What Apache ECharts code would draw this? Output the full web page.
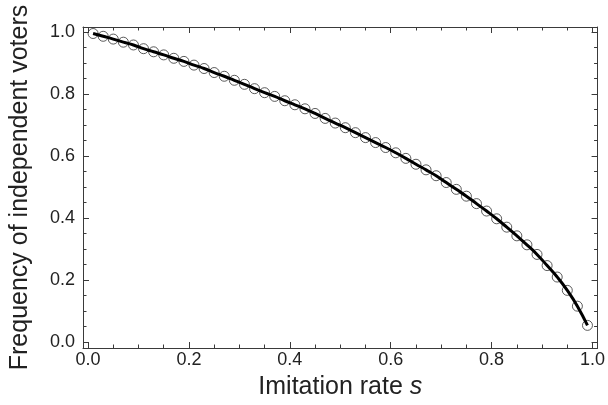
<!DOCTYPE html>
<html>
<head>
<meta charset="utf-8">
<script src="https://cdn.jsdelivr.net/npm/echarts@6/dist/echarts.min.js"></script>
<style>
html,body{margin:0;padding:0;background:#fff;}
#c{width:608px;height:405px;}
</style>
</head>
<body>
<div id="c"></div>
<script>
// Imitation rate s (x values of the open circles)
var sValues = [0.01,0.03,0.05,0.07,0.09,0.11,0.13,0.15,0.17,0.19,
               0.21,0.23,0.25,0.27,0.29,0.31,0.33,0.35,0.37,0.39,
               0.41,0.43,0.45,0.47,0.49,0.51,0.53,0.55,0.57,0.59,
               0.61,0.63,0.65,0.67,0.69,0.71,0.73,0.75,0.77,0.79,
               0.81,0.83,0.85,0.87,0.89,0.91,0.93,0.95,0.97,0.99];
// Frequency of independent voters
var freqValues = [0.995,0.986,0.977,0.967,0.958,0.946,0.936,0.926,0.915,0.905,
                  0.893,0.882,0.869,0.857,0.844,0.831,0.817,0.804,0.792,0.778,
                  0.765,0.752,0.737,0.721,0.706,0.691,0.675,0.659,0.643,0.627,
                  0.610,0.592,0.573,0.555,0.536,0.514,0.492,0.470,0.446,0.422,
                  0.397,0.370,0.342,0.313,0.282,0.246,0.209,0.166,0.115,0.053];
var majorTicks = [0,0.2,0.4,0.6,0.8,1.0];
var minorTicks = [0.05,0.1,0.15,0.25,0.3,0.35,0.45,0.5,0.55,0.65,0.7,0.75,0.85,0.9,0.95];

var pts = sValues.map(function(s,i){return [s,freqValues[i]];});
var FONT = "'Liberation Sans', Arial, Helvetica, sans-serif";
var AX = '#3a3a3a';

function mkX(pos, major, showLine, extra){
  var a = {
    type:'value', position:pos, min:-0.01, max:1.01, gridIndex:0,
    axisLine:{show:showLine, onZero:false, lineStyle:{color:AX,width:1}},
    axisTick:{show:true, inside:true, length:major?6:3.5, customValues: major?majorTicks:minorTicks, lineStyle:{color:AX,width:1}},
    axisLabel:{show:false},
    splitLine:{show:false}
  };
  for (var k in extra) a[k]=extra[k];
  return a;
}
function mkY(pos, major, showLine, extra){
  var a = {
    type:'value', position:pos, min:-0.02, max:1.016, gridIndex:0,
    axisLine:{show:showLine, onZero:false, lineStyle:{color:AX,width:1}},
    axisTick:{show:true, inside:true, length:major?6:3.5, customValues: major?majorTicks:minorTicks, lineStyle:{color:AX,width:1}},
    axisLabel:{show:false},
    splitLine:{show:false}
  };
  for (var k in extra) a[k]=extra[k];
  return a;
}

var option = {
  animation:false,
  backgroundColor:'#fff',
  grid:{left:80, top:27, width:520, height:321, containLabel:false},
  xAxis:[
    mkX('bottom', true, true, {
      axisLabel:{show:true, customValues:majorTicks, margin:3, color:'#222', fontSize:18, fontFamily:FONT,
        formatter:function(v){return v.toFixed(1);}},
      name:'Imitation rate {i|s}', nameLocation:'middle', nameGap:27,
      nameTextStyle:{color:'#222', fontSize:25, fontFamily:FONT,
        rich:{i:{fontStyle:'italic', fontSize:25, fontFamily:FONT, color:'#222'}}}
    }),
    mkX('bottom', false, false, {}),
    mkX('top', true, true, {}),
    mkX('top', false, false, {})
  ],
  yAxis:[
    mkY('left', true, true, {
      axisLabel:{show:true, customValues:majorTicks, margin:8, color:'#222', fontSize:18, fontFamily:FONT,
        formatter:function(v){return v.toFixed(1);}},
      name:'Frequency of independent voters', nameLocation:'middle', nameGap:50,
      nameTextStyle:{color:'#222', fontSize:25, fontFamily:FONT}
    }),
    mkY('left', false, false, {}),
    mkY('right', true, true, {}),
    mkY('right', false, false, {})
  ],
  series:[
    {
      type:'line', xAxisIndex:0, yAxisIndex:0, data:pts, smooth:true,
      showSymbol:false, symbol:'none',
      lineStyle:{color:'#000', width:3}, z:3
    },
    {
      type:'scatter', xAxisIndex:0, yAxisIndex:0, data:pts,
      symbol:'circle', symbolSize:10,
      itemStyle:{color:'rgba(0,0,0,0)', borderColor:'#333', borderWidth:1}, z:2
    }
  ]
};
var chart = echarts.init(document.getElementById('c'), null, {renderer:'canvas'});
chart.setOption(option);
</script>
</body>
</html>
